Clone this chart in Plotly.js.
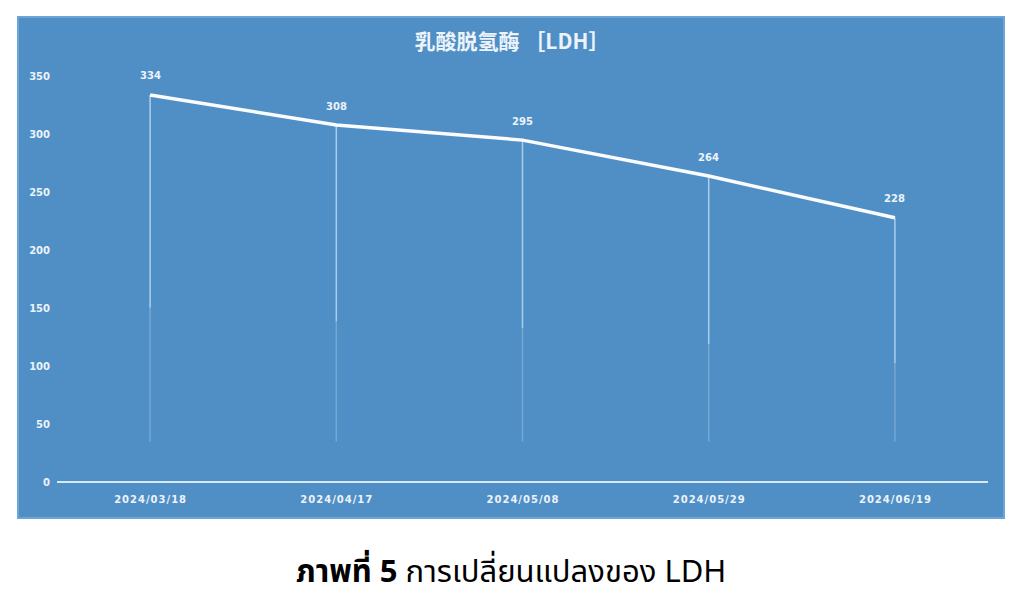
<!DOCTYPE html>
<html>
<head>
<meta charset="utf-8">
<script src="https://cdn.plot.ly/plotly-3.0.1.min.js"></script>
<style>
  html, body { margin: 0; padding: 0; background: #fff; }
  #chart { width: 1024px; height: 596px; }
</style>
</head>
<body>
<div id="chart"></div>
<script>
// LDH readings per test date
const dates = ["2024/03/18", "2024/04/17", "2024/05/08", "2024/05/29", "2024/06/19"];
const ldhValues = [334, 308, 295, 264, 228];
const yTicks = [0, 50, 100, 150, 200, 250, 300, 350];

const panelBlue = "rgb(80,143,197)";
const textWhite = "rgb(236,243,250)";

// drop lines from each point down toward the axis (two parts, lower part fainter)
const dropX = [], dropYTop = [], dropXLow = [], dropYLow = [];
dates.forEach((d, i) => {
    dropX.push(d, d, null);
    dropYTop.push(ldhValues[i], ldhValues[i] * 0.45, null);
    dropXLow.push(d, d, null);
    dropYLow.push(ldhValues[i] * 0.45, 35, null);
});

const traces = [
    {
        x: dropX, y: dropYTop,
        mode: "lines",
        line: {color: "rgba(200,225,248,0.75)", width: 1.5},
        hoverinfo: "skip",
        showlegend: false
    },
    {
        x: dropXLow, y: dropYLow,
        mode: "lines",
        line: {color: "rgba(200,225,248,0.3)", width: 1.5},
        hoverinfo: "skip",
        showlegend: false
    },
    {
        x: dates, y: ldhValues,
        mode: "lines",
        line: {color: "rgb(250,252,255)", width: 3.5},
        showlegend: false
    }
];

// value labels sitting above each point
const valueLabels = dates.map((d, i) => ({
    x: d, y: ldhValues[i],
    xref: "x", yref: "y",
    yshift: 19,
    showarrow: false,
    text: "<b>" + ldhValues[i] + "</b>",
    font: {family: "DejaVu Sans", size: 10, color: textWhite}
}));

const layout = {
    width: 1024,
    height: 596,
    margin: {l: 57, r: 36, t: 59, b: 114},
    paper_bgcolor: "white",
    plot_bgcolor: "rgba(0,0,0,0)",
    showlegend: false,
    title: {
        text: "<b>乳酸脱氢酶 ［LDH］</b>",
        font: {family: "Noto Sans CJK SC", size: 21, color: textWhite},
        x: 0.5, xanchor: "center",
        y: 0.93, yanchor: "middle"
    },
    xaxis: {
        type: "category",
        range: [-0.5, 4.5],
        tickvals: dates,
        ticktext: dates.map(d => "<b>" + d.split("").join("\u200a") + "</b>"),
        showgrid: false,
        zeroline: false,
        showline: false,
        ticks: "",
        tickfont: {family: "DejaVu Sans", size: 10, color: textWhite},
        ticklabelstandoff: 10
    },
    yaxis: {
        range: [0, 365],
        tickvals: yTicks,
        ticktext: yTicks.map(v => "<b>" + v + "</b>"),
        showgrid: false,
        zeroline: true,
        zerolinecolor: "rgb(215,232,248)",
        zerolinewidth: 2,
        showline: false,
        ticks: "",
        tickfont: {family: "DejaVu Sans", size: 10, color: textWhite},
        ticklabelstandoff: 6
    },
    shapes: [
        {
            type: "rect", xref: "paper", yref: "paper",
            x0: -39 / 931, x1: 1 + 16 / 931,
            y0: -36 / 423, y1: 1 + 42 / 423,
            fillcolor: panelBlue,
            line: {color: "rgb(110,165,215)", width: 2},
            layer: "below"
        }
    ],
    annotations: valueLabels.concat([
        {
            xref: "paper", yref: "paper",
            x: 0.488, y: -90 / 423,
            xanchor: "center", yanchor: "middle",
            showarrow: false,
            text: "<b>ภาพที่ 5</b> การเปลี่ยนแปลงของ LDH",
            font: {family: "Noto Sans Thai, Noto Sans, Liberation Sans, sans-serif", size: 31, color: "black"}
        }
    ])
};

Plotly.newPlot("chart", traces, layout, {displayModeBar: false, staticPlot: true});
</script>
</body>
</html>
